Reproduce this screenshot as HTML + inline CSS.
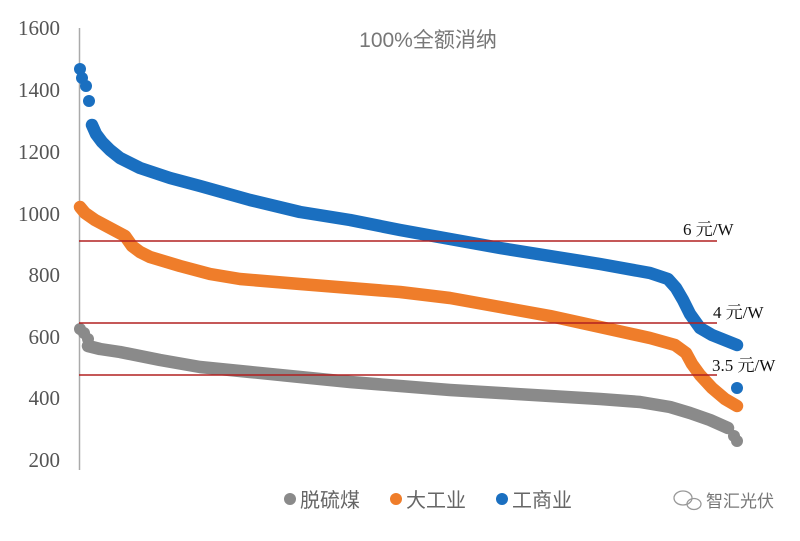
<!DOCTYPE html>
<html><head><meta charset="utf-8"><style>
body{margin:0;background:#fff;width:800px;height:536px;overflow:hidden}
</style></head><body>
<svg width="800" height="536" xmlns="http://www.w3.org/2000/svg">
<rect width="800" height="536" fill="#fff"/>
<g font-family="Liberation Serif, serif" font-size="21" fill="#555" text-anchor="end">
<text x="60" y="35">1600</text><text x="60" y="97">1400</text><text x="60" y="159">1200</text>
<text x="60" y="221">1000</text><text x="60" y="282">800</text><text x="60" y="344">600</text>
<text x="60" y="405">400</text><text x="60" y="467">200</text>
</g>
<line x1="79.5" y1="28" x2="79.5" y2="470" stroke="#aaa" stroke-width="1.5"/>
<text x="428" y="47" text-anchor="middle" font-family="Liberation Sans, Noto Sans CJK SC, sans-serif" font-size="21" fill="#777">100%全额消纳</text>
<g fill="none" stroke-linecap="round" stroke-linejoin="round" stroke-width="12.5">
<polyline stroke="#8a8a8a" points="88,346 100,349 120,352 160,360 200,367 250,372 300,377 350,382 400,386 450,390 500,393 550,396 600,399 640,402 670,407 690,413 710,420 728,428"/>
<polyline stroke="#ef7d2a" points="80,207 85,213 95,220 110,228 125,236 132,246 140,252 150,257 180,266 210,274 240,279 300,284 400,292 450,298 500,307 550,316 600,327 650,338 675,345 686,353 692,364 700,375 712,388 725,399 737,406"/>
<polyline stroke="#1a6fc0" points="92,125 96,134 102,142 110,150 120,158 140,168 170,178 200,186 250,200 300,212 350,220 400,230 450,239 500,248 550,256 600,264 650,273 668,279 676,288 683,300 690,314 700,328 712,335 737,345"/>
</g>
<g fill="#8a8a8a"><circle cx="80" cy="329" r="6"/><circle cx="84" cy="333" r="6"/><circle cx="88" cy="339" r="6"/><circle cx="734" cy="436" r="6"/><circle cx="737" cy="441" r="6"/></g>
<g fill="#1a6fc0"><circle cx="80" cy="69" r="6"/><circle cx="82" cy="78" r="6"/><circle cx="86" cy="86" r="6"/><circle cx="89" cy="101" r="6"/><circle cx="737" cy="388" r="6"/></g>
<g stroke="#b22020" stroke-width="1.5">
<line x1="79" y1="241" x2="717" y2="241"/><line x1="79" y1="323" x2="717" y2="323"/><line x1="79" y1="375" x2="717" y2="375"/>
</g>
<g font-family="Liberation Serif, Noto Serif CJK SC, serif" font-size="17" fill="#111">
<text x="683" y="235">6 元/W</text><text x="713" y="318">4 元/W</text><text x="712" y="371">3.5 元/W</text>
</g>
<g font-family="Liberation Sans, Noto Sans CJK SC, sans-serif" font-size="20" fill="#666">
<circle cx="290" cy="499" r="6" fill="#8a8a8a"/><text x="300" y="507">脱硫煤</text>
<circle cx="396" cy="499" r="6" fill="#ef7d2a"/><text x="406" y="507">大工业</text>
<circle cx="502" cy="499" r="6" fill="#1a6fc0"/><text x="512" y="507">工商业</text>
</g>
<g fill="none" stroke="#999" stroke-width="1.3"><ellipse cx="683" cy="498" rx="9" ry="7"/><ellipse cx="694" cy="504" rx="7" ry="5.5"/></g>
<text x="706" y="507" font-family="Noto Sans CJK SC, sans-serif" font-size="17" fill="#777">智汇光伏</text>
</svg>
</body></html>
